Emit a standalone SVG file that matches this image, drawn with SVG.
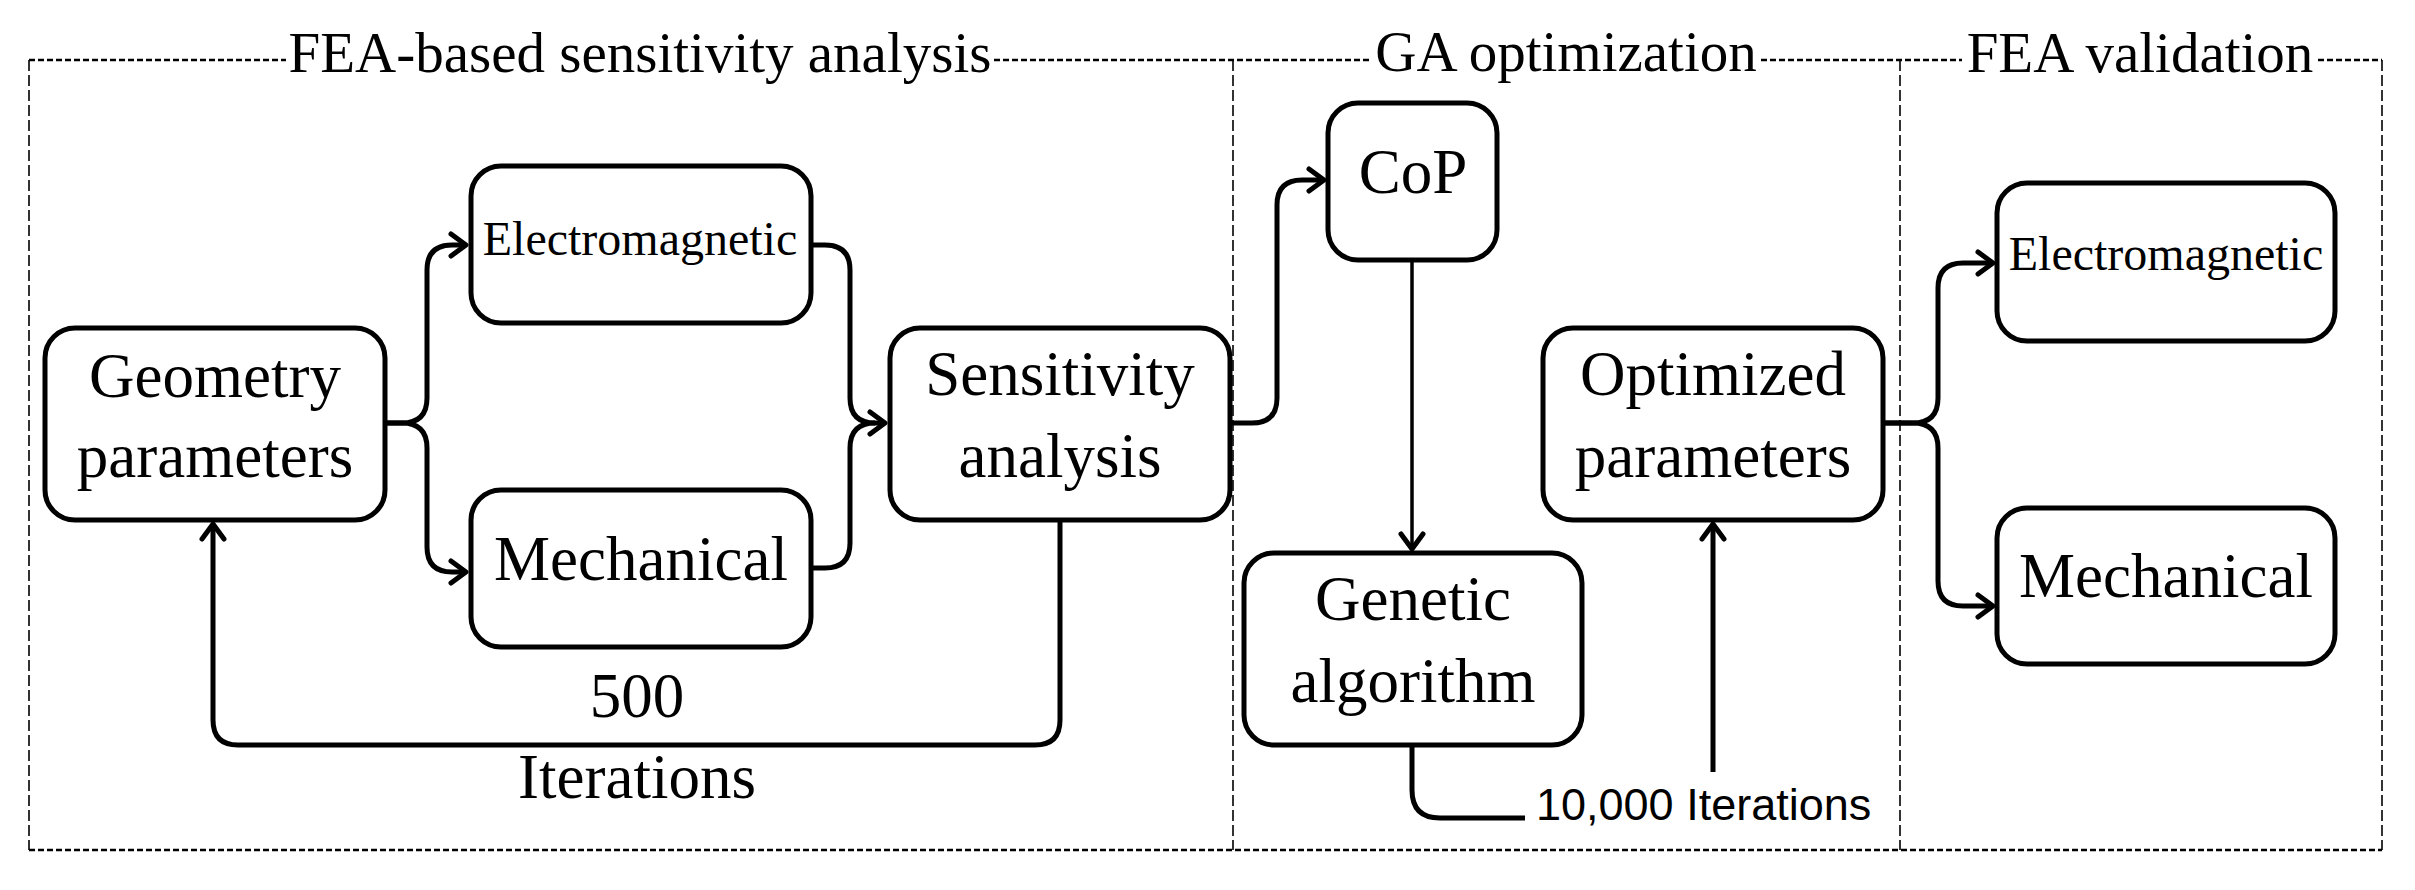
<svg xmlns="http://www.w3.org/2000/svg" width="2415" height="890" viewBox="0 0 2415 890">
<defs>
<marker id="arr" markerUnits="userSpaceOnUse" markerWidth="34" markerHeight="34" viewBox="-20 -17 34 34" refX="0" refY="0" orient="auto">
<path d="M-15,-11 L0,0 L-15,11" fill="none" stroke="#000" stroke-width="5" stroke-linejoin="round" stroke-linecap="round"/>
</marker>
<style>
.frameh{stroke:#000;stroke-width:2.5;stroke-dasharray:6 3;fill:none}
.framev{stroke:#000;stroke-width:1.6;stroke-dasharray:11 4;fill:none}
.box{fill:#fff;stroke:#000;stroke-width:5}
.conn{fill:none;stroke:#000;stroke-width:5;stroke-linejoin:round}
.thin{fill:none;stroke:#000;stroke-width:3.5}
.t{font-family:"Liberation Serif","Times New Roman",serif;font-size:63px;text-anchor:middle;fill:#000}
.ts{font-family:"Liberation Serif","Times New Roman",serif;font-size:48px;text-anchor:middle;fill:#000}
.tt{font-family:"Liberation Serif","Times New Roman",serif;font-size:57px;text-anchor:middle;fill:#000}
.sans{font-family:"Liberation Sans",Arial,sans-serif;font-size:45px;fill:#000}
</style>
</defs>
<rect width="2415" height="890" fill="#fff"/>
<g id="frame">
<line class="frameh" x1="29" y1="60" x2="286" y2="60"/>
<line class="frameh" x1="994" y1="60" x2="1371" y2="60"/>
<line class="frameh" x1="1761" y1="60" x2="1962" y2="60"/>
<line class="frameh" x1="2318" y1="60" x2="2382" y2="60"/>
<line class="frameh" x1="29" y1="850" x2="2382" y2="850"/>
<line class="framev" x1="29" y1="60" x2="29" y2="850"/>
<line class="framev" x1="1233" y1="60" x2="1233" y2="850"/>
<line class="framev" x1="1900" y1="60" x2="1900" y2="850"/>
<line class="framev" x1="2382" y1="60" x2="2382" y2="850"/>
<text class="tt" x="640" y="72">FEA-based sensitivity analysis</text>
<text class="tt" x="1566" y="71">GA optimization</text>
<text class="tt" x="2140" y="72">FEA validation</text>
</g>
<g id="connectors">
<path class="conn" d="M385,423 H402 Q427,423 427,398 V270 Q427,245 452,245 H466" marker-end="url(#arr)"/>
<path class="conn" d="M385,423 H402 Q427,423 427,448 V547 Q427,572 452,572 H466" marker-end="url(#arr)"/>
<path class="conn" d="M811,245 H825 Q850,245 850,270 V398 Q850,423 875,423 H885" marker-end="url(#arr)"/>
<path class="conn" d="M811,568 H825 Q850,568 850,543 V448 Q850,423 875,423"/>
<path class="conn" d="M1060,520 V720 Q1060,745 1035,745 H238 Q213,745 213,720 V524" marker-end="url(#arr)"/>
<path class="conn" d="M1230,423 H1252 Q1277,423 1277,398 V205 Q1277,180 1302,180 H1324" marker-end="url(#arr)"/>
<path class="thin" d="M1412,260 V549" marker-end="url(#arr)"/>
<path class="conn" d="M1412,745 V790 Q1412,818 1440,818 H1525"/>
<path class="conn" d="M1713,772 V524" marker-end="url(#arr)"/>
<path class="conn" d="M1883,423 H1913 Q1938,423 1938,398 V288 Q1938,263 1963,263 H1993" marker-end="url(#arr)"/>
<path class="conn" d="M1883,423 H1913 Q1938,423 1938,448 V581 Q1938,606 1963,606 H1993" marker-end="url(#arr)"/>
<text class="t" x="637" y="717">500</text>
<text class="t" x="637" y="798">Iterations</text>
<text class="sans" x="1536" y="820">10,000 Iterations</text>
</g>
<g id="geometry">
<rect class="box" x="45" y="328" width="340" height="192" rx="30"/>
<text class="t" x="215" y="397">Geometry</text>
<text class="t" x="215" y="477">parameters</text>
</g>
<g id="electromagnetic1">
<rect class="box" x="471" y="166" width="340" height="157" rx="30"/>
<text class="ts" x="640" y="255">Electromagnetic</text>
</g>
<g id="mechanical1">
<rect class="box" x="471" y="490" width="340" height="157" rx="30"/>
<text class="t" x="641" y="580">Mechanical</text>
</g>
<g id="sensitivity">
<rect class="box" x="890" y="328" width="340" height="192" rx="30"/>
<text class="t" x="1060" y="395">Sensitivity</text>
<text class="t" x="1060" y="477">analysis</text>
</g>
<g id="cop">
<rect class="box" x="1328" y="103" width="169" height="157" rx="30"/>
<text class="t" x="1413" y="193">CoP</text>
</g>
<g id="genetic">
<rect class="box" x="1244" y="553" width="338" height="192" rx="30"/>
<text class="t" x="1413" y="620">Genetic</text>
<text class="t" x="1413" y="702">algorithm</text>
</g>
<g id="optimized">
<rect class="box" x="1543" y="328" width="340" height="192" rx="30"/>
<text class="t" x="1713" y="395">Optimized</text>
<text class="t" x="1713" y="477">parameters</text>
</g>
<g id="electromagnetic2">
<rect class="box" x="1997" y="183" width="338" height="158" rx="30"/>
<text class="ts" x="2166" y="270">Electromagnetic</text>
</g>
<g id="mechanical2">
<rect class="box" x="1997" y="508" width="338" height="156" rx="30"/>
<text class="t" x="2166" y="597">Mechanical</text>
</g>
</svg>
